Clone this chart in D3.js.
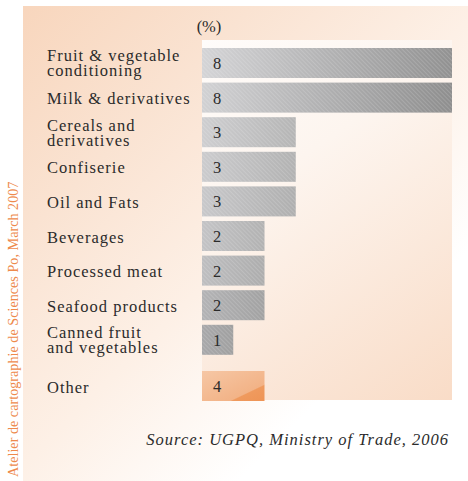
<!DOCTYPE html>
<html>
<head>
<meta charset="utf-8">
<script src="https://cdn.jsdelivr.net/npm/d3@7"></script>
<style>
  html, body { margin: 0; padding: 0; background: #ffffff; }
  svg { display: block; }
  text { font-family: "Liberation Serif", "DejaVu Serif", serif; fill: #2b2b2b; }
</style>
</head>
<body>
<svg id="chart" width="468" height="481"></svg>
<script>
// ---- data ----
const categories = [
  "Fruit & vegetable conditioning",
  "Milk & derivatives",
  "Cereals and derivatives",
  "Confiserie",
  "Oil and Fats",
  "Beverages",
  "Processed meat",
  "Seafood products",
  "Canned fruit and vegetables",
  "Other"
];
const labelLines = [
  ["Fruit & vegetable", "conditioning"],
  ["Milk & derivatives"],
  ["Cereals and", "derivatives"],
  ["Confiserie"],
  ["Oil and Fats"],
  ["Beverages"],
  ["Processed meat"],
  ["Seafood products"],
  ["Canned fruit", "and vegetables"],
  ["Other"]
];
// printed shares (%)
const shares = [8, 8, 3, 3, 3, 2, 2, 2, 1, 4];
// drawn bar lengths as they appear in the picture
const barLengths = [8, 8, 3, 3, 3, 2, 2, 2, 1, 2];
const unitLabel = "(%)";
const sourceText = "Source: UGPQ, Ministry of Trade, 2006";
const creditText = "Atelier de cartographie de Sciences Po, March 2007";
const highlight = "Other";

// ---- layout ----
const W = 468, H = 481;
const svg = d3.select("#chart");
const defs = svg.append("defs");

// panel gradient
const pg = defs.append("linearGradient").attr("id", "panelGrad")
  .attr("gradientUnits", "userSpaceOnUse")
  .attr("x1", 23).attr("y1", 6).attr("x2", 483).attr("y2", 466);
pg.append("stop").attr("offset", 0).attr("stop-color", "#f8d6bd");
pg.append("stop").attr("offset", 0.25).attr("stop-color", "#fae3d2");
pg.append("stop").attr("offset", 0.5).attr("stop-color", "#fdf0e6");
pg.append("stop").attr("offset", 0.75).attr("stop-color", "#ffffff");
pg.append("stop").attr("offset", 1).attr("stop-color", "#ffffff");

// plot area gradient
const ag = defs.append("linearGradient").attr("id", "areaGrad")
  .attr("gradientUnits", "userSpaceOnUse")
  .attr("x1", 202).attr("y1", 40).attr("x2", 452).attr("y2", 400);
ag.append("stop").attr("offset", 0).attr("stop-color", "#fffcfa");
ag.append("stop").attr("offset", 0.35).attr("stop-color", "#fdf5ef");
ag.append("stop").attr("offset", 1).attr("stop-color", "#f9dcc7");

// hatch pattern
const hp = defs.append("pattern").attr("id", "hatch")
  .attr("patternUnits", "userSpaceOnUse").attr("width", 3).attr("height", 3)
  .attr("patternTransform", "rotate(-45)");
hp.append("rect").attr("width", 1).attr("height", 3).attr("fill", "#ffffff").attr("opacity", 0.15);

const other = defs.append("linearGradient").attr("id", "otherGrad")
  .attr("x1", 0).attr("y1", 0).attr("x2", 1).attr("y2", 1);
other.append("stop").attr("offset", 0).attr("stop-color", "#f6c7a5");
other.append("stop").attr("offset", 0.72).attr("stop-color", "#f2b387");
other.append("stop").attr("offset", 0.74).attr("stop-color", "#ef9a5e");
other.append("stop").attr("offset", 1).attr("stop-color", "#ee9456");

// background panel
svg.append("rect").attr("x", 23).attr("y", 6).attr("width", W - 23).attr("height", H - 6)
  .attr("fill", "url(#panelGrad)");

// scales
const x = d3.scaleLinear().domain([0, 8]).range([202, 452]);
const y = d3.scaleBand().domain(categories).range([48, 389.4]).paddingInner(0.133).paddingOuter(0);
const yPos = c => y(c) + (c === highlight ? 11.6 : 0);

// plot area rect
svg.append("rect").attr("x", x(0)).attr("y", 40).attr("width", x(8) - x(0)).attr("height", 400 - 40)
  .attr("fill", "url(#areaGrad)");

// grey tone per row
const leftTone = d3.scaleLinear().domain([0, 4, 6, 8]).range([212, 200, 190, 168]);

const rows = categories.map((c, i) => ({ c, i, share: shares[i], len: barLengths[i], lines: labelLines[i] }));

rows.forEach(d => {
  if (d.c === highlight) return;
  const w = x(d.len) - x(0);
  const l = leftTone(d.i), r = l - 0.27 * w;
  const g = defs.append("linearGradient").attr("id", "bar" + d.i);
  g.append("stop").attr("offset", 0).attr("stop-color", d3.rgb(l, l, l + 2));
  g.append("stop").attr("offset", 1).attr("stop-color", d3.rgb(r, r, r));
});

const bars = svg.append("g");
bars.selectAll("rect.bar").data(rows).join("rect")
  .attr("class", "bar")
  .attr("x", x(0))
  .attr("y", d => yPos(d.c))
  .attr("width", d => x(d.len) - x(0))
  .attr("height", y.bandwidth())
  .attr("fill", d => d.c === highlight ? "url(#otherGrad)" : `url(#bar${d.i})`);
bars.selectAll("rect.tex").data(rows.filter(d => d.c !== highlight)).join("rect")
  .attr("class", "tex")
  .attr("x", x(0))
  .attr("y", d => yPos(d.c))
  .attr("width", d => x(d.len) - x(0))
  .attr("height", y.bandwidth())
  .attr("fill", "url(#hatch)");

// value labels
svg.append("g").selectAll("text").data(rows).join("text")
  .attr("x", x(0) + 11)
  .attr("y", d => yPos(d.c) + y.bandwidth() / 2 + 6)
  .attr("font-size", 16.5)
  .text(d => d.share);

// category labels
const lab = svg.append("g").selectAll("text").data(rows).join("text")
  .attr("x", 47)
  .attr("font-size", 16.5)
  .attr("letter-spacing", 1)
  .attr("y", d => {
    const cy = yPos(d.c) + y.bandwidth() / 2;
    return d.lines.length > 1 ? cy - 1.5 : cy + 6.5;
  });
lab.selectAll("tspan").data(d => d.lines.map((t, k) => ({ t, k }))).join("tspan")
  .attr("x", 47)
  .attr("dy", d => d.k === 0 ? 0 : 15)
  .text(d => d.t);

// unit label
svg.append("text").attr("x", 209).attr("y", 32).attr("text-anchor", "middle")
  .attr("font-size", 16.5).text(unitLabel);

// source
svg.append("text").attr("x", 449).attr("y", 445).attr("text-anchor", "end")
  .attr("font-size", 16.5).attr("font-style", "italic").attr("letter-spacing", 1)
  .text(sourceText);

// credit
svg.append("text").attr("transform", "translate(17.5,477) rotate(-90)")
  .attr("font-size", 14.2).style("fill", "#ee8a4c")
  .text(creditText);
</script>
</body>
</html>
